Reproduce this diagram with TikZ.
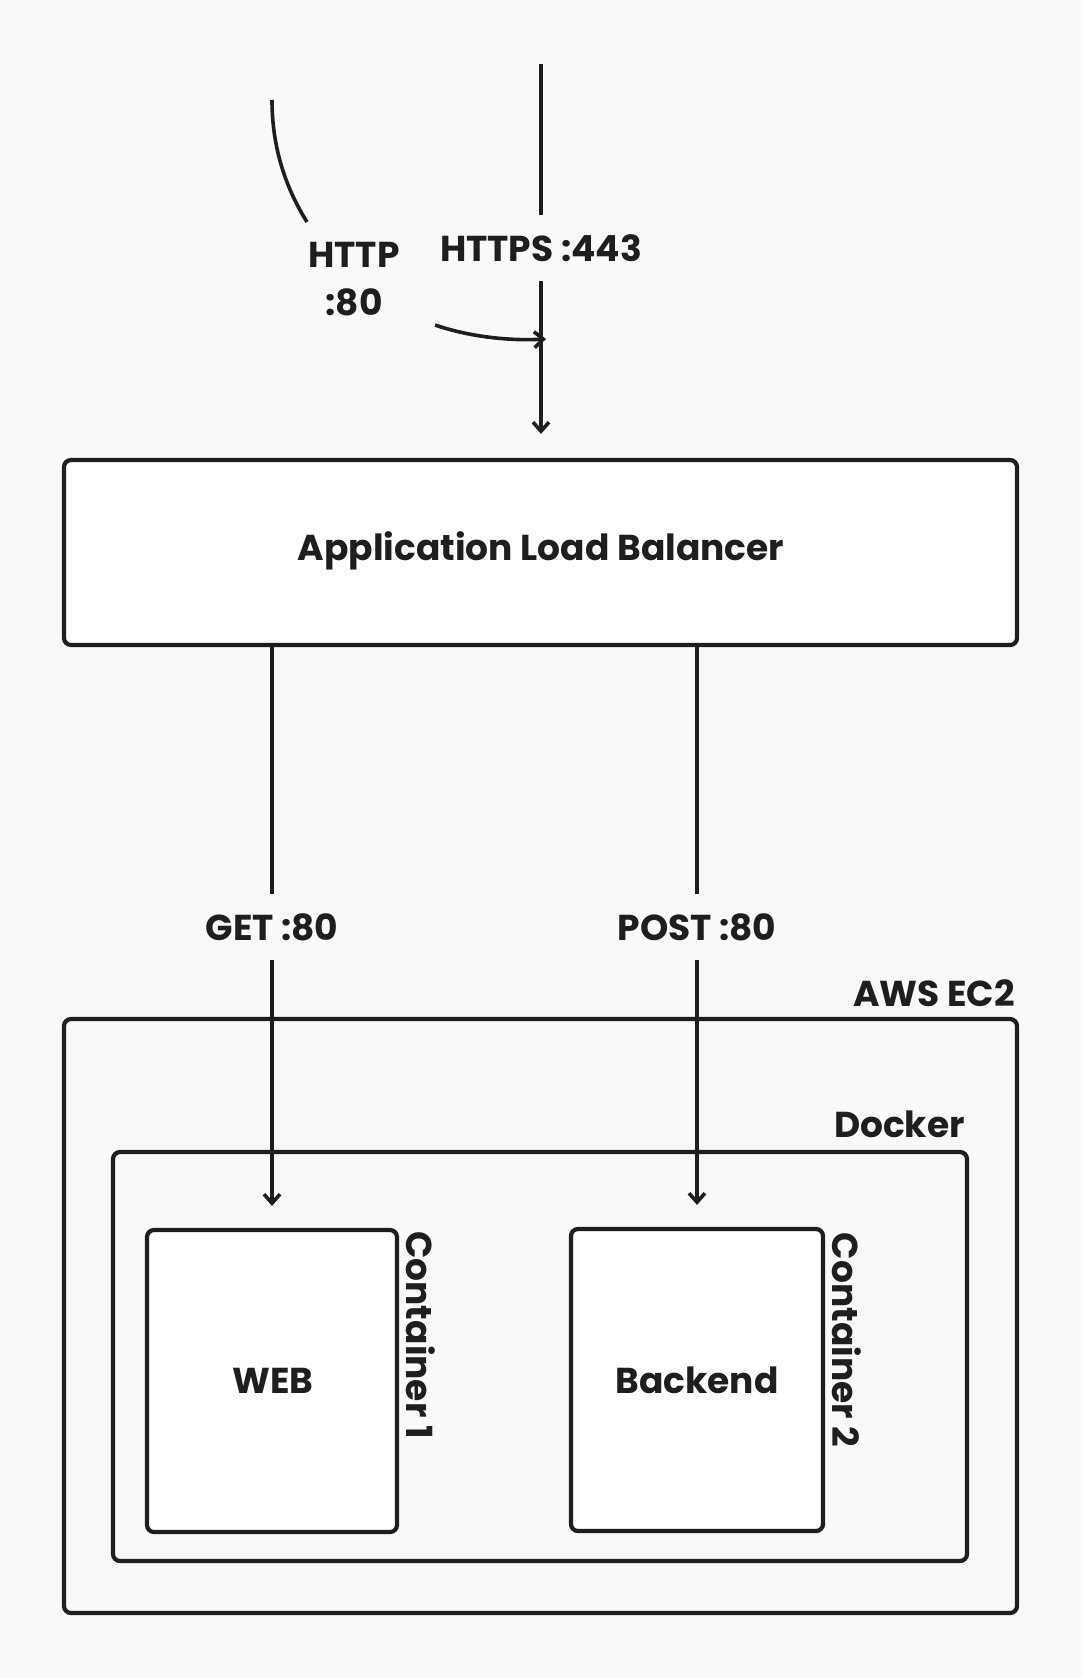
\documentclass[tikz,border=0pt]{standalone}
\usepackage{fontspec}
\setmainfont{Poppins}
\usetikzlibrary{arrows.meta}
\definecolor{bgc}{RGB}{249,249,251}
\definecolor{ink}{RGB}{30,30,30}
\tikzset{
  box/.style={draw=ink, line width=4.2pt, rounded corners=7pt, fill=white, inner sep=0pt},
  txt/.style={font=\fontsize{36}{43}\selectfont\bfseries, text=ink, inner sep=0pt},
  lbl/.style={txt, minimum height=66pt},
  wire/.style={draw=ink, line width=3.6pt},
  arr/.style={wire, -{Straight Barb[length=9pt,width=16pt,line width=3.6pt]}},
}
\begin{document}
\begin{tikzpicture}[x=1pt,y=-1pt]
\fill[bgc] (0,0) rectangle (1082,1678);
\useasboundingbox (0,0) rectangle (1082,1678);

% boxes
\node[box, minimum width=953pt, minimum height=185pt] (alb) at (540.5,552.5) {};
\node[txt] (albt) at (541,551) {Application Load Balancer};
\node[box, minimum width=953pt, minimum height=594pt, fill=none] (ec2) at (540.5,1316) {};
\node[txt, anchor=east] (ec2t) at (1015,993) {AWS EC2};
\node[box, minimum width=854pt, minimum height=409pt, fill=none] (docker) at (540,1356.5) {};
\node[txt, anchor=east] (dockert) at (965,1124) {Docker};
\node[box, minimum width=250pt, minimum height=302pt] (web) at (272,1381) {};
\node[txt] (webt) at (273,1381) {WEB};
\node[box, minimum width=252pt, minimum height=302pt] (back) at (697,1380) {};
\node[txt] (backt) at (697,1380) {Backend};
\node[txt, rotate=-90] (c1) at (421,1335) {Container 1};
\node[txt, rotate=-90] (c2) at (847,1340) {Container 2};

% incoming
\coordinate (httpstop) at (541,64);
\node[lbl] (https) at (541,248) {HTTPS :443};
\draw[wire] (httpstop) -- (https.north);
\draw[arr, shorten >=24pt] (https.south) -- (alb.north -| https.south);

\coordinate (httpa) at (272,100);
\coordinate (httpb) at (307,222);
\node[txt, align=center] (http) at (354,279) {HTTP\\[5pt]:80};
\coordinate (httpc) at (435,325);
\coordinate (httpd) at (546,339);
\draw[wire] (httpa) .. controls (272,150) and (287,190) .. (httpb);
\draw[arr] (httpc) .. controls (470,337) and (510,341) .. (httpd);

% outgoing
\node[lbl] (get) at (272,927) {GET :80};
\node[lbl] (post) at (697,927) {POST :80};
\draw[wire] (alb.south -| get.north) -- (get.north);
\draw[wire] (alb.south -| post.north) -- (post.north);
\draw[arr, shorten >=22pt] (get.south) -- (web.north -| get.south);
\draw[arr, shorten >=22pt] (post.south) -- (back.north -| post.south);
\end{tikzpicture}
\end{document}
